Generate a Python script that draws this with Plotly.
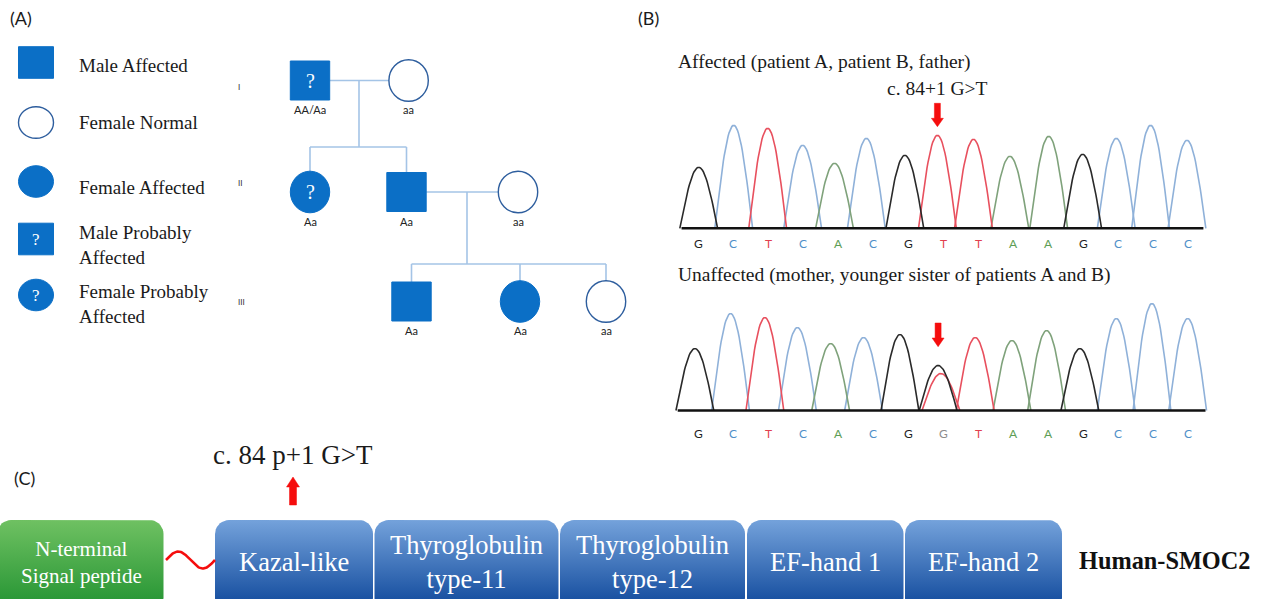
import numpy as np
import plotly.graph_objects as go

W, H = 1263, 599

# ======================= DATA =======================
# (A) pedigree legend
legend_labels = ["Male Affected", "Female Normal", "Female Affected",
                 "Male Probably<br>Affected", "Female Probably<br>Affected"]
legend_sex = ["M", "F", "F", "M", "F"]
legend_status = ["affected", "normal", "affected", "probable", "probable"]

# (A) pedigree individuals
generation_labels = ["I", "II", "III"]
ped_generation = [0, 0, 1, 1, 1, 2, 2, 2]
ped_sex = ["M", "F", "F", "M", "F", "M", "F", "F"]
ped_status = ["probable", "normal", "probable", "affected", "normal",
              "affected", "affected", "normal"]
ped_genotype = ["AA/Aa", "aa", "Aa", "Aa", "aa", "Aa", "Aa", "aa"]
ped_couples = [(0, 1), (3, 4)]
ped_children = [[2, 3], [5, 6, 7]]

# (B) Sanger chromatograms (position in base-call units, height in signal units)
panel_titles = ["Affected (patient A, patient B, father)",
                "Unaffected (mother, younger sister of patients A and B)"]
bases_affected = list("GCTCACGTTAAGCCC")
peak_pos_affected = [0.02, 1.02, 1.99, 2.99, 3.90, 4.81, 5.91, 6.84,
                     7.87, 8.91, 10.02, 10.99, 11.95, 12.93, 13.97]
peak_height_affected = [61, 103, 100, 83, 65, 90, 73, 93,
                        89, 72, 92, 74, 90, 103, 88]
bases_unaffected = list("GCTCACGGTAAGCCC")
peak_pos_unaffected = [-0.09, 0.93, 1.91, 2.84, 3.79, 4.73, 5.77, 6.86,
                       7.92, 8.97, 9.96, 10.91, 11.95, 12.97, 13.99]
peak_height_unaffected = [62, 97, 93, 83, 67, 73, 76, 45,
                          73, 70, 80, 62, 92, 107, 92]
het_extra_base = "T"
het_extra_pos = 6.94
het_extra_height = 37
variant_index = 7
variant_dna = "c. 84+1 G>T"

# (C) SMOC2 protein domains
domain_labels = ["N-terminal<br>Signal peptide", "Kazal-like",
                 "Thyroglobulin<br>type-11", "Thyroglobulin<br>type-12",
                 "EF-hand 1", "EF-hand 2"]
domain_kind = ["signal", "domain", "domain", "domain", "domain", "domain"]
protein_name = "Human-SMOC2"
variant_protein = "c. 84 p+1 G>T"
variant_domain = 1

# ======================= STYLE / LAYOUT =======================
SERIF = "Liberation Serif"
SANS = "Lato"
BLUE = "#0b6fc6"
OUTLINE = "#2e5e9e"
LINE = "#a4c4e6"
RED = "#f50d0d"
PEAK_COL = {"G": "#2a2a2a", "C": "#8fb1d9", "T": "#e8505e", "A": "#7fa27b"}
CALL_COL = {"G": "#1e1e1e", "C": "#4f8fc8", "T": "#e2404e", "A": "#5d9e55"}

LEG_CX, LEG_HW, LEG_HH = 36, 17.5, 15.8
LEG_CY = [62.5, 122.5, 181.5, 239, 295]
LEG_TX = 77
LEG_TY = [65, 122, 187, 245, 304]

GEN_CY = [80.5, 192, 301.5]
GEN_LABEL_XY = [(239, 87), (240, 183), (241, 302)]
PED_CX = [310, 408.6, 310, 406.5, 518, 411.5, 520, 606]
PED_HW, PED_HH = 19.7, 19.5
SIB_Y = [147, 264]
DROP_X = [359, 467]

SCAN0_PX, SCAN_PX = 698.0, 35.0
CH_X_PX = (660, 1220)
CH_PANELS = [
    dict(base_py=228.3, top=95, bot=262, letter=-15.0, arrow=(101.6, 110.0, 125.0),
         line=(-0.47, 14.44), title_y=62),
    dict(base_py=410.5, top=295, bot=447, letter=-22.8, arrow=(63.8, 72.5, 87.5),
         line=(-0.58, 14.50), title_y=275),
]
BOX_TOP, BOX_BOT, BOX_R = 520, 612, 14
DOMAIN_PX = [(-3, 163.5), (215, 373), (374.5, 558.5), (560, 745),
             (747, 903.5), (905, 1062)]
BOX_COLORS = {"signal": ("#6fc162", "#2b9837"), "domain": ("#74a2db", "#1a52a2")}

fig = go.Figure()
shapes, annos = [], []


def txt(x, y, s, size, family=SERIF, color="#1a1a1a", xa="center", ya="middle",
        xref="x", yref="y", **kw):
    annos.append(dict(x=x, y=y, text=s, showarrow=False, xref=xref, yref=yref,
                      xanchor=xa, yanchor=ya,
                      font=dict(size=size, family=family, color=color), **kw))


def symbol(cx, cy, sex, status, hw, hh, qsize):
    filled = status in ("affected", "probable")
    kind = "rect" if sex == "M" else "circle"
    shapes.append(dict(type=kind, xref="x", yref="y", x0=cx - hw, x1=cx + hw,
                       y0=cy - hh, y1=cy + hh,
                       fillcolor=BLUE if filled else "white",
                       line=dict(color=BLUE if filled else OUTLINE,
                                 width=1 if filled else 1.4), layer="above"))
    if status == "probable":
        txt(cx, cy, "?", qsize, color="white")


def hline(x0, x1, y):
    shapes.append(dict(type="line", xref="x", yref="y", x0=x0, x1=x1, y0=y, y1=y,
                       line=dict(color=LINE, width=1.6), layer="above"))


def vline(x, y0, y1):
    shapes.append(dict(type="line", xref="x", yref="y", x0=x, x1=x, y0=y0, y1=y1,
                       line=dict(color=LINE, width=1.6), layer="above"))


# ---------- (A) pedigree ----------
txt(8, 18, "(A)", 18, family=SANS, xa="left")
for i, lab in enumerate(legend_labels):
    symbol(LEG_CX, LEG_CY[i], legend_sex[i], legend_status[i], LEG_HW, LEG_HH, 17)
    txt(LEG_TX, LEG_TY[i], lab, 19, xa="left", align="left")

for g, lab in enumerate(generation_labels):
    gx, gy = GEN_LABEL_XY[g]
    txt(gx, gy, lab, 8, family=SANS, color="#333")

for k, (a, b) in enumerate(ped_couples):
    ya = GEN_CY[ped_generation[a]]
    hline(PED_CX[a] + PED_HW, PED_CX[b] - PED_HW, ya)
    kids = ped_children[k]
    vline(DROP_X[k], ya, SIB_Y[k])
    hline(min(PED_CX[c] for c in kids), max(PED_CX[c] for c in kids), SIB_Y[k])
    for c in kids:
        vline(PED_CX[c], SIB_Y[k], GEN_CY[ped_generation[c]] - PED_HH)

for i in range(len(ped_sex)):
    cy = GEN_CY[ped_generation[i]]
    hh = PED_HH if ped_sex[i] == "M" else PED_HH + 1.3
    symbol(PED_CX[i], cy, ped_sex[i], ped_status[i], PED_HW, hh, 20)
    txt(PED_CX[i], cy + 29, ped_genotype[i], 11, family=SANS, color="#222")

# ---------- (B) chromatograms ----------
txt(636, 18, "(B)", 18, family=SANS, xa="left")


def peak_xy(pos, h, hw=0.54, n=41):
    t = np.linspace(-1, 1, n)
    return pos + t * hw, h * np.cos(t * np.pi / 2)


chrom_sets = [
    (bases_affected, peak_pos_affected, peak_height_affected, None),
    (bases_unaffected, peak_pos_unaffected, peak_height_unaffected,
     (het_extra_base, het_extra_pos, het_extra_height)),
]
layout_axes = {}
for p, (bases, pos, hts, extra) in enumerate(chrom_sets):
    P = CH_PANELS[p]
    ax = p + 2
    xr = [(CH_X_PX[0] - SCAN0_PX) / SCAN_PX, (CH_X_PX[1] - SCAN0_PX) / SCAN_PX]
    yr = [P["base_py"] - P["bot"], P["base_py"] - P["top"]]
    layout_axes[f"xaxis{ax}"] = dict(domain=[CH_X_PX[0] / W, CH_X_PX[1] / W], range=xr,
                                     visible=False, anchor=f"y{ax}", fixedrange=True)
    layout_axes[f"yaxis{ax}"] = dict(domain=[1 - P["bot"] / H, 1 - P["top"] / H], range=yr,
                                     visible=False, anchor=f"x{ax}", fixedrange=True)
    xa_, ya_ = f"x{ax}", f"y{ax}"
    peaks = list(zip(bases, pos, hts))
    if extra:
        peaks.append(extra)
    for b in ["C", "A", "T", "G"]:
        xs, ys = [], []
        for (bb, ps, hh) in peaks:
            if bb != b:
                continue
            px_, py_ = peak_xy(ps, hh)
            xs += list(px_) + [None]
            ys += list(py_) + [None]
        fig.add_trace(go.Scatter(x=xs, y=ys, mode="lines", xaxis=xa_, yaxis=ya_,
                                 line=dict(color=PEAK_COL[b], width=1.6),
                                 hoverinfo="skip"))
    fig.add_trace(go.Scatter(x=list(P["line"]), y=[0, 0], mode="lines", xaxis=xa_, yaxis=ya_,
                             line=dict(color="#111", width=2.6), hoverinfo="skip"))
    for i, b in enumerate(bases):
        col = CALL_COL[b]
        if extra and i == variant_index:
            col = "#8c8c8c"
        txt(i, P["letter"], b, 12, family=SANS, color=col, xref=xa_, yref=ya_)
    vx = pos[variant_index]
    tip, head, top = P["arrow"]
    sw, hw = 3.0 / SCAN_PX, 6.0 / SCAN_PX
    ax_x = [vx - sw, vx + sw, vx + sw, vx + hw, vx, vx - hw, vx - sw, vx - sw]
    ax_y = [top, top, head, head, tip, head, head, top]
    fig.add_trace(go.Scatter(x=ax_x, y=ax_y, fill="toself", mode="lines", xaxis=xa_, yaxis=ya_,
                             fillcolor=RED, line=dict(color=RED, width=0.5), hoverinfo="skip"))
    txt(676, P["title_y"], panel_titles[p], 19.5, xa="left")

txt(937, 88.5, variant_dna, 19.5)

# ---------- (C) protein domains ----------
txt(12, 478, "(C)", 18, family=SANS, xa="left")


def rounded_box(x0, x1, y0, y1, r, n=10):
    xs, ys = [], []
    corners = [((x0 + r, y0 + r), 180, 90), ((x1 - r, y0 + r), 90, 0),
               ((x1 - r, y1 - r), 0, -90), ((x0 + r, y1 - r), -90, -180)]
    for (cx, cy), a0, a1 in corners:
        for a in np.linspace(np.radians(a0), np.radians(a1), n):
            xs.append(cx + r * np.cos(a))
            ys.append(cy - r * np.sin(a))
    xs.append(xs[0]); ys.append(ys[0])
    return xs, ys


for k, lab in enumerate(domain_labels):
    x0, x1 = DOMAIN_PX[k]
    bx, by = rounded_box(x0, x1, BOX_TOP, BOX_BOT, BOX_R)
    top_c, bot_c = BOX_COLORS[domain_kind[k]]
    fig.add_trace(go.Scatter(x=bx, y=by, mode="lines", fill="toself",
                             line=dict(width=0, color=bot_c),
                             fillgradient=dict(type="vertical", start=BOX_TOP, stop=H,
                                               colorscale=[[0, top_c], [1, bot_c]]),
                             hoverinfo="skip"))
    if domain_kind[k] == "signal":
        txt((x0 + x1) / 2 + 1.5, 562, lab, 21, color="white")
    else:
        txt((x0 + x1) / 2, 561.5, lab, 26.5, color="white")

wx = np.linspace(DOMAIN_PX[0][1] + 2.5, DOMAIN_PX[1][0], 60)
wy = 560 - 8.5 * np.sin(2 * np.pi * (wx - wx[0]) / (wx[-1] - wx[0]))
fig.add_trace(go.Scatter(x=wx, y=wy, mode="lines", line=dict(color=RED, width=2.6),
                         hoverinfo="skip"))

vx = (DOMAIN_PX[variant_domain][0] + DOMAIN_PX[variant_domain][1]) / 2 - 1
ux = [vx - 3.5, vx + 3.5, vx + 3.5, vx + 6.5, vx, vx - 6.5, vx - 3.5, vx - 3.5]
uy = [505, 505, 487, 487, 477, 487, 487, 505]
fig.add_trace(go.Scatter(x=ux, y=uy, mode="lines", fill="toself", fillcolor=RED,
                         line=dict(color=RED, width=0.5), hoverinfo="skip"))
txt(vx, 455, variant_protein, 27)
txt(1077, 560, "<b>" + protein_name + "</b>", 24.3, xa="left", color="#111")

fig.update_layout(
    width=W, height=H, autosize=False, showlegend=False,
    margin=dict(l=0, r=0, t=0, b=0),
    paper_bgcolor="white", plot_bgcolor="white",
    xaxis=dict(range=[0, W], visible=False, fixedrange=True, domain=[0, 1]),
    yaxis=dict(range=[H, 0], visible=False, fixedrange=True, domain=[0, 1]),
    shapes=shapes, annotations=annos,
    **layout_axes,
)
fig.write_html("out.html", config={"displayModeBar": False},
               post_script="document.body.style.margin='0';document.body.style.overflow='hidden';")
